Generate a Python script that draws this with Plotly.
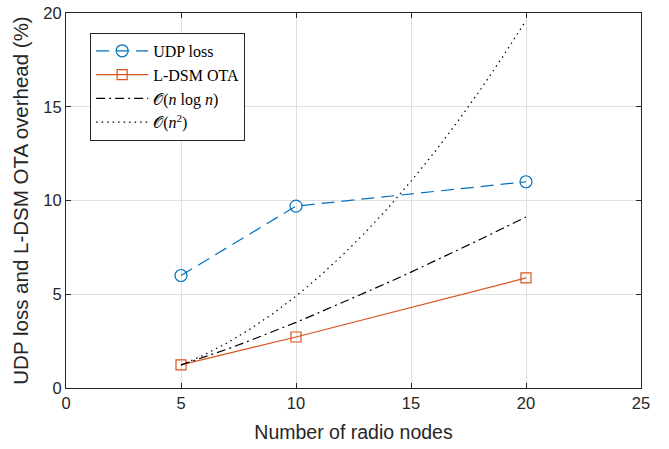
import plotly.graph_objects as go

# Measured overhead values
nodes = [5, 10, 20]
udp_loss = [6.0, 9.7, 11.0]
ldsm_ota = [1.23, 2.72, 5.87]

# Reference growth curves
ref_n = [5, 6, 7, 8, 9, 10, 11, 12, 13, 14, 15, 16, 17, 18, 19, 20]
ref_nlogn = [1.23, 1.64, 2.07, 2.53, 3.01, 3.50, 4.02, 4.54, 5.08, 5.62,
             6.18, 6.75, 7.33, 7.92, 8.52, 9.12]
ref_n2 = [1.23, 1.76, 2.40, 3.14, 3.97, 4.90, 5.93, 7.06, 8.28, 9.60,
          11.03, 12.54, 14.16, 15.88, 17.69, 19.60]

x_ticks = [0, 5, 10, 15, 20, 25]
y_ticks = [0, 5, 10, 15, 20]

blue = "#0072BD"
orange = "#D95319"

fig = go.Figure()
fig.add_trace(go.Scatter(
    x=nodes, y=udp_loss, name="UDP loss", mode="lines+markers",
    line=dict(color=blue, width=1.2, dash="13px,7px"),
    marker=dict(symbol="circle-open", size=12, color=blue, line=dict(width=1.2)),
))
fig.add_trace(go.Scatter(
    x=nodes, y=ldsm_ota, name="L-DSM OTA", mode="lines+markers",
    line=dict(color=orange, width=1.2),
    marker=dict(symbol="square-open", size=10, color=orange, line=dict(width=1.2)),
))
fig.add_trace(go.Scatter(
    x=ref_n, y=ref_nlogn, name="𝒪(<i>n</i> log <i>n</i>)", mode="lines",
    line=dict(color="black", width=1.2, dash="9px,4px,2px,4px"),
))
fig.add_trace(go.Scatter(
    x=ref_n, y=ref_n2, name="𝒪(<i>n</i><sup>2</sup>)", mode="lines",
    line=dict(color="black", width=1.2, dash="1.5px,4px"),
))

axis_common = dict(
    showgrid=True, gridcolor="#DFDFDF", gridwidth=1,
    showline=True, linecolor="#262626", linewidth=1, mirror="allticks",
    ticks="inside", ticklen=5, tickcolor="#262626",
    zeroline=False, automargin=False,
    tickfont=dict(family="Liberation Sans, Arial, sans-serif", size=16.5, color="#262626"),
)

fig.update_xaxes(range=[0, 25], tickvals=x_ticks, title_text="Number of radio nodes",
                 title_standoff=14,
                 title_font=dict(family="Liberation Sans, Arial, sans-serif", size=19.5, color="#262626"),
                 **axis_common)
fig.update_yaxes(range=[0, 20], tickvals=y_ticks,
                 title_text="UDP loss and L-DSM OTA overhead (%)",
                 title_standoff=9,
                 title_font=dict(family="Liberation Sans, Arial, sans-serif", size=20.5, color="#262626"),
                 **axis_common)

fig.update_layout(
    width=669, height=449,
    margin=dict(l=66, r=28, t=13, b=61),
    plot_bgcolor="white", paper_bgcolor="white",
    showlegend=True,
    legend=dict(
        x=0.042, y=0.947, xanchor="left", yanchor="top",
        bgcolor="white", bordercolor="#262626", borderwidth=1,
        font=dict(family="Liberation Serif, DejaVu Serif, serif", size=16, color="black"),
        tracegroupgap=0, itemwidth=52,
    ),
)

fig.write_html("out.html")
